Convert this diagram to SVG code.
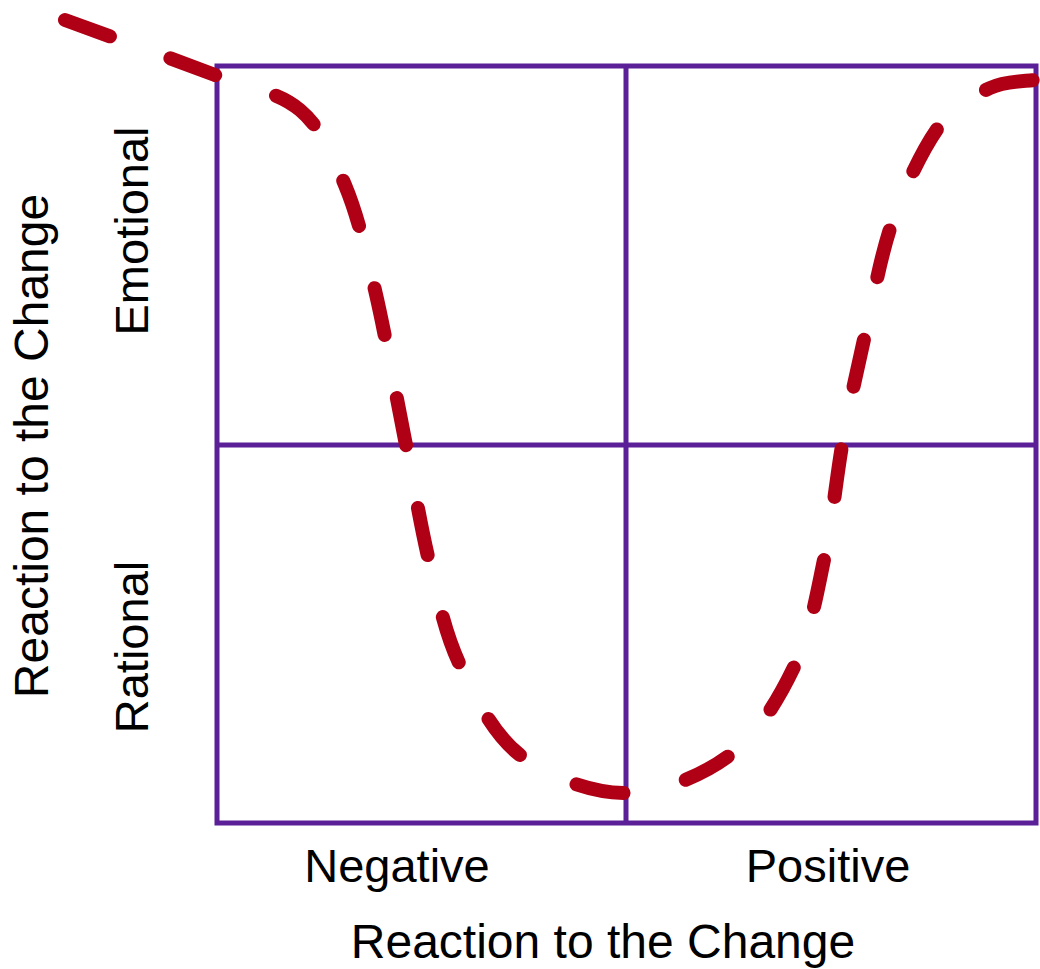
<svg xmlns="http://www.w3.org/2000/svg" width="1040" height="969" viewBox="0 0 1040 969">
<style>
.grid{fill:none;stroke:#5b1f97;stroke-width:5}
.curve{fill:none;stroke:#b00016;stroke-width:14;stroke-linecap:round;stroke-dasharray:48 64}
.lbl{font-family:"Liberation Sans",Arial,sans-serif;font-size:47px;fill:#000;text-anchor:middle}
.ttl{font-size:48px}
</style>
<rect width="1040" height="969" fill="#fff"/>
<g id="grid">
<rect class="grid" x="217" y="66" width="819" height="757"/>
<line class="grid" x1="626" y1="66" x2="626" y2="823"/>
<line class="grid" x1="217" y1="445" x2="1036" y2="445"/>
</g>
<g id="connectors">
<path class="curve" d="M65,20 C90,29.2 175.8,60 215,75 C254.2,90 278.3,91.7 300,110 C321.7,128.3 332.5,155 345,185 C357.5,215 365,247.5 375,290 C385,332.5 395.8,394.2 405,440 C414.2,485.8 420.8,527.5 430,565 C439.2,602.5 445,633.3 460,665 C475,696.7 492.5,733.7 520,755 C547.5,776.3 590,793 625,793 C660,793 701.7,776.3 730,755 C758.3,733.7 779.2,698.3 795,665 C810.8,631.7 817,592.5 825,555 C833,517.5 836.3,476.7 843,440 C849.7,403.3 856.7,371.7 865,335 C873.3,298.3 880.5,255 893,220 C905.5,185 923.8,147 940,125 C956.2,103 974.3,95.5 990,88 C1005.7,80.5 1026.7,81.3 1034,80"/>
</g>
<g id="label-negative"><text class="lbl" x="397" y="882">Negative</text></g>
<g id="label-positive"><text class="lbl" x="828" y="882">Positive</text></g>
<g id="label-x-title"><text class="lbl ttl" x="603" y="958">Reaction to the Change</text></g>
<g id="label-y-title"><text class="lbl ttl" transform="translate(48,446) rotate(-90)">Reaction to the Change</text></g>
<g id="label-emotional"><text class="lbl" transform="translate(148,231) rotate(-90)">Emotional</text></g>
<g id="label-rational"><text class="lbl" transform="translate(148,647) rotate(-90)">Rational</text></g>
</svg>
